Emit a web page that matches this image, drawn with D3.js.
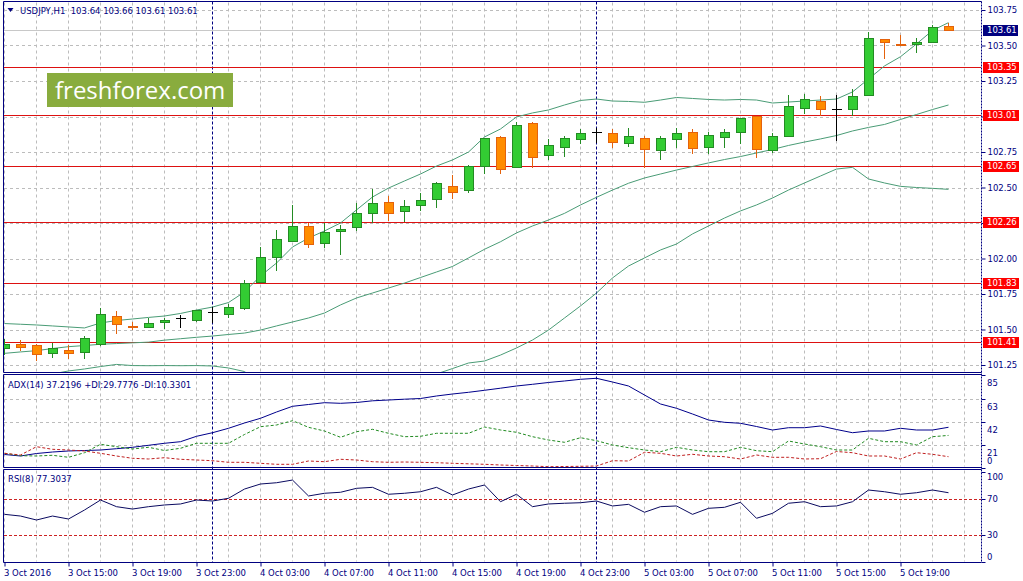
<!DOCTYPE html>
<html>
<head>
<meta charset="utf-8">
<script src="https://cdn.jsdelivr.net/npm/d3@7"></script>
<style>
  body { margin: 0; background: #fff; }
  text { font-family: "DejaVu Sans", sans-serif; font-size: 8.5px; fill: #000080; }
</style>
</head>
<body>
<div id="chart"></div>
<script>
// USDJPY H1, 3 Oct 11:00 .. 5 Oct 22:00 (one bar per hour)
var opens  = [101.368,101.396,101.391,101.332,101.356,101.344,101.398,101.595,101.527,101.520,
              101.555,101.583,101.565,101.625,101.611,101.649,101.837,102.013,102.125,102.227,
              102.107,102.197,102.220,102.323,102.396,102.337,102.375,102.419,102.513,102.482,
              102.651,102.858,102.646,102.952,102.727,102.787,102.839,102.889,102.882,102.815,
              102.846,102.762,102.839,102.889,102.787,102.858,102.893,103.004,102.764,102.865,
              103.058,103.109,103.055,103.051,103.151,103.544,103.510,103.508,103.527,103.640];
var highs  = [101.430,101.426,101.395,101.403,101.391,101.456,101.654,101.630,101.555,101.579,
              101.579,101.602,101.640,101.656,101.680,101.849,102.079,102.200,102.377,102.252,
              102.252,102.236,102.389,102.487,102.440,102.412,102.459,102.541,102.588,102.655,
              102.848,102.860,102.959,102.961,102.840,102.863,102.912,102.921,102.912,102.919,
              102.863,102.863,102.921,102.912,102.893,102.912,102.990,103.006,102.882,103.151,
              103.158,103.144,103.151,103.192,103.595,103.546,103.574,103.551,103.644,103.660];
var lows   = [101.330,101.356,101.285,101.304,101.297,101.297,101.391,101.473,101.504,101.518,
              101.513,101.520,101.562,101.555,101.590,101.647,101.835,101.920,102.123,102.083,
              102.083,102.030,102.200,102.259,102.271,102.264,102.342,102.365,102.428,102.466,
              102.604,102.604,102.644,102.646,102.700,102.724,102.815,102.823,102.787,102.794,
              102.646,102.699,102.787,102.745,102.745,102.787,102.815,102.717,102.752,102.863,
              103.027,103.010,102.835,103.010,103.149,103.410,103.500,103.452,103.525,103.610];
var closes = [101.396,101.379,101.325,101.368,101.332,101.438,101.607,101.536,101.515,101.544,
              101.567,101.583,101.637,101.625,101.656,101.825,102.008,102.135,102.231,102.100,
              102.185,102.205,102.318,102.389,102.323,102.370,102.412,102.530,102.466,102.653,
              102.846,102.632,102.940,102.717,102.797,102.846,102.882,102.889,102.823,102.860,
              102.769,102.846,102.882,102.776,102.868,102.889,102.987,102.773,102.863,103.074,
              103.121,103.051,103.055,103.144,103.551,103.523,103.504,103.523,103.628,103.610];

var bbUpper  = [101.542,101.537,101.532,101.525,101.518,101.511,101.546,101.563,101.574,101.585,
                101.595,101.613,101.637,101.658,101.690,101.764,101.877,101.968,102.081,102.144,
                102.194,102.250,102.342,102.433,102.496,102.546,102.595,102.651,102.694,102.750,
                102.856,102.912,102.997,103.025,103.046,103.081,103.113,103.123,103.109,103.106,
                103.100,103.116,103.134,103.127,103.120,103.116,103.120,103.116,103.095,103.102,
                103.109,103.116,103.123,103.173,103.264,103.356,103.421,103.511,103.606,103.661];
var bbMiddle = [101.332,101.342,101.351,101.366,101.379,101.387,101.396,101.401,101.406,101.411,
                101.425,101.435,101.445,101.454,101.465,101.475,101.496,101.525,101.553,101.581,
                101.616,101.673,101.722,101.757,101.792,101.827,101.866,101.905,101.944,102.004,
                102.065,102.118,102.180,102.229,102.271,102.318,102.377,102.431,102.482,102.530,
                102.567,102.595,102.623,102.648,102.673,102.697,102.718,102.743,102.768,102.796,
                102.820,102.842,102.866,102.898,102.923,102.944,102.979,103.014,103.049,103.081];
var bbLower  = [101.123,101.144,101.172,101.187,101.208,101.222,101.239,101.254,101.246,101.245,
                101.246,101.245,101.246,101.243,101.229,101.204,101.116,101.074,101.025,101.018,
                101.039,101.088,101.102,101.081,101.088,101.109,101.137,101.187,101.225,101.264,
                101.278,101.320,101.370,101.426,101.496,101.581,101.666,101.757,101.863,101.947,
                102.004,102.060,102.102,102.173,102.229,102.285,102.335,102.377,102.426,102.482,
                102.532,102.581,102.630,102.642,102.560,102.532,102.508,102.500,102.494,102.487];

var adx     = [12.34,10.97,13.25,14.62,15.54,15.99,16.45,17.64,18.92,20.75,
               22.58,24.04,28.97,32.26,36.29,41.13,45.43,51.18,56.39,58.04,
               59.68,59.13,59.87,61.42,62.15,62.88,63.52,65.81,67.63,69.19,
               71.02,72.94,74.95,76.50,78.15,79.52,81.07,81.99,78.60,74.95,
               66.72,58.50,54.57,49.36,43.87,41.77,40.86,37.93,34.73,36.83,
               36.83,38.39,35.19,32.26,33.82,33.82,36.29,34.73,34.73,37.22];
var plusDI  = [13.44,11.24,10.97,11.61,9.78,13.98,21.66,19.47,17.37,18.92,
               15.99,18.01,22.58,22.58,22.58,30.62,37.75,39.30,43.23,37.20,
               33.82,28.06,33.18,35.37,31.72,28.61,28.97,31.72,31.72,31.72,
               37.47,34.73,32.63,28.61,25.59,23.49,27.69,24.95,21.02,18.55,
               16.45,14.90,18.92,16.45,14.90,14.90,18.92,15.81,14.90,24.68,
               21.94,19.47,16.45,16.45,27.15,24.04,24.04,21.02,28.61,29.78];
var minusDI = [13.44,11.88,19.47,17.09,16.45,15.54,13.44,10.97,8.87,8.23,
               9.41,7.95,7.31,6.67,5.21,5.21,4.30,3.38,3.38,6.40,
               5.76,7.95,7.31,5.76,5.21,5.48,5.21,4.84,4.30,3.84,
               3.38,2.74,2.28,1.83,1.19,1.37,1.55,1.83,6.67,6.40,
               14.35,13.44,10.97,12.52,10.97,10.33,8.23,11.88,9.78,9.78,
               8.23,8.50,15.08,13.98,10.97,10.97,8.23,13.98,12.52,10.33];
var rsi = [53.3,51.4,47.0,51.4,48.1,58.1,69.2,61.8,59.2,61.8,
           63.7,64.8,69.2,68.1,71.1,81.4,87.0,88.4,91.4,73.7,
           76.7,77.8,82.2,83.3,75.6,76.7,78.4,83.3,74.8,81.4,
           85.9,67.3,75.6,61.8,64.8,65.6,66.2,68.1,62.6,64.4,
           55.6,61.8,62.6,53.3,60.0,61.1,66.7,48.9,54.4,65.6,
           67.3,61.8,62.6,67.3,80.3,78.4,75.6,77.3,80.3,77.3];

var levels = [103.35, 103.01, 102.65, 102.26, 101.83, 101.41];
var bidPrice = 103.61;
var priceTicks = [101.25, 101.50, 101.75, 102.00, 102.25, 102.50, 102.75, 103.00, 103.25, 103.50, 103.75];
var adxTicks = [85, 63, 42, 21, 0];
var rsiTicks = [100, 70, 30, 0];
var rsiLevels = [70, 30];
var timeLabels = ["3 Oct 2016", "3 Oct 15:00", "3 Oct 19:00", "3 Oct 23:00", "4 Oct 03:00",
                  "4 Oct 07:00", "4 Oct 11:00", "4 Oct 15:00", "4 Oct 19:00", "4 Oct 23:00",
                  "5 Oct 03:00", "5 Oct 07:00", "5 Oct 11:00", "5 Oct 15:00", "5 Oct 19:00"];
var timeLabelBars = [0, 4, 8, 12, 16, 20, 24, 28, 32, 36, 40, 44, 48, 52, 56];
var daySeparators = [13, 37];

var W = 1023, H = 581;
var navy = "#000080";
var gridColor = "#bcbcbc";
var left = 3.5, right = 981.5;
var pMain = {top: 1.5, bottom: 372.5},
    pAdx = {top: 374.5, bottom: 467.5},
    pRsi = {top: 469.5, bottom: 562.5};

var x = d3.scaleLinear().domain([0, 59]).range([4, 948]);
var xc = function(i) { return Math.round(x(i)) + 0.5; };
var yMain = d3.scaleLinear().domain([101.25, 103.75]).range([365, 10]);
var yAdx = d3.scaleLinear().domain([0, 85]).range([468, 375]);
var yRsi = d3.scaleLinear().domain([0, 100]).range([562.3, 472.3]);
var snap = function(v) { return Math.round(v) + 0.5; };

var svg = d3.select("#chart").append("svg")
  .attr("width", W)
  .attr("height", H);

svg.append("rect").attr("width", W).attr("height", H).attr("fill", "#fff");

var defs = svg.append("defs");
[["clipMain", pMain], ["clipAdx", pAdx], ["clipRsi", pRsi]].forEach(function(c) {
  defs.append("clipPath").attr("id", c[0]).append("rect")
    .attr("x", 4).attr("y", c[1].top + 0.5)
    .attr("width", 977).attr("height", c[1].bottom - c[1].top - 1);
});

// grid: vertical every two bars, horizontal at the price / ADX ticks
var gridBars = d3.range(0, 61, 2);
var gridPath = d3.path();
[pMain, pAdx, pRsi].forEach(function(p) {
  gridBars.forEach(function(b) {
    gridPath.moveTo(xc(b), p.top + 1);
    gridPath.lineTo(xc(b), p.bottom - 1);
  });
});
priceTicks.forEach(function(v) {
  gridPath.moveTo(4, snap(yMain(v)));
  gridPath.lineTo(981, snap(yMain(v)));
});
[63, 42, 21].forEach(function(v) {
  gridPath.moveTo(4, snap(yAdx(v)));
  gridPath.lineTo(981, snap(yAdx(v)));
});
svg.append("path").attr("d", gridPath.toString())
  .attr("fill", "none").attr("stroke", gridColor).attr("stroke-width", 1)
  .attr("stroke-dasharray", "3,3");

// day separators
svg.append("g").selectAll("line").data(daySeparators).enter().append("line")
  .attr("x1", function(d) { return xc(d); })
  .attr("x2", function(d) { return xc(d); })
  .attr("y1", pMain.top).attr("y2", pRsi.bottom)
  .attr("stroke", navy).attr("stroke-dasharray", "3,2");

// watermark
svg.append("rect").attr("x", 47).attr("y", 73).attr("width", 186).attr("height", 34).attr("fill", "#89ac3e");
svg.append("text").attr("x", 55).attr("y", 99).text("freshforex.com")
  .style("font-family", "'Open Sans', sans-serif").style("font-size", "24px").style("fill", "#fff");

// main panel contents
var main = svg.append("g").attr("clip-path", "url(#clipMain)");

main.append("line")
  .attr("x1", 4).attr("x2", 981)
  .attr("y1", snap(yMain(bidPrice))).attr("y2", snap(yMain(bidPrice)))
  .attr("stroke", "#c8c8c8");

main.selectAll(".level").data(levels).enter().append("line")
  .attr("class", "level")
  .attr("x1", 4).attr("x2", 981)
  .attr("y1", function(d) { return snap(yMain(d)); })
  .attr("y2", function(d) { return snap(yMain(d)); })
  .attr("stroke", "#dd1111");

var bandLine = d3.line()
  .x(function(d, i) { return xc(i); })
  .y(function(d) { return yMain(d); });
[bbUpper, bbMiddle, bbLower].forEach(function(s) {
  main.append("path").attr("d", bandLine(s))
    .attr("fill", "none").attr("stroke", "#4a9c76").attr("stroke-width", 1);
});

var candles = opens.map(function(o, i) {
  return {i: i, o: o, h: highs[i], l: lows[i], c: closes[i]};
});
var cg = main.append("g").selectAll("g").data(candles).enter().append("g");
function edgeColor(d) { return d.c > d.o ? "#238b23" : (d.c < d.o ? "#e4620c" : "#000"); }
cg.append("line")
  .attr("x1", function(d) { return xc(d.i); })
  .attr("x2", function(d) { return xc(d.i); })
  .attr("y1", function(d) { return Math.round(yMain(d.h)); })
  .attr("y2", function(d) { return Math.round(yMain(d.l)) + 1; })
  .attr("stroke", edgeColor);
cg.each(function(d) {
  var g = d3.select(this);
  var cx = Math.round(x(d.i));
  if (d.o === d.c) {
    g.append("line")
      .attr("x1", cx - 4).attr("x2", cx + 6)
      .attr("y1", snap(yMain(d.o))).attr("y2", snap(yMain(d.o)))
      .attr("stroke", "#000");
  } else {
    var yt = snap(yMain(Math.max(d.o, d.c)));
    var yb = snap(yMain(Math.min(d.o, d.c)));
    g.append("rect")
      .attr("x", cx - 3.5).attr("width", 9)
      .attr("y", yt).attr("height", Math.max(yb - yt, 1))
      .attr("fill", d.c > d.o ? "#33cc33" : "#ff8c00")
      .attr("stroke", edgeColor(d));
  }
});

// ADX panel
var adxG = svg.append("g").attr("clip-path", "url(#clipAdx)");
var adxLine = d3.line().x(function(d, i) { return xc(i); }).y(function(d) { return yAdx(d); });
adxG.append("path").attr("d", adxLine(adx)).attr("fill", "none").attr("stroke", "#00008b");
adxG.append("path").attr("d", adxLine(plusDI)).attr("fill", "none").attr("stroke", "#228b22").attr("stroke-dasharray", "3,2");
adxG.append("path").attr("d", adxLine(minusDI)).attr("fill", "none").attr("stroke", "#c02020").attr("stroke-dasharray", "3,2");

// RSI panel
var rsiG = svg.append("g").attr("clip-path", "url(#clipRsi)");
rsiG.selectAll("line").data(rsiLevels).enter().append("line")
  .attr("x1", 4).attr("x2", 981)
  .attr("y1", function(d) { return snap(yRsi(d)); })
  .attr("y2", function(d) { return snap(yRsi(d)); })
  .attr("stroke", "#cc2222").attr("stroke-dasharray", "3,2");
var rsiLine = d3.line().x(function(d, i) { return xc(i); }).y(function(d) { return yRsi(d); });
rsiG.append("path").attr("d", rsiLine(rsi)).attr("fill", "none").attr("stroke", "#0a0a60");

// frames
[pMain, pAdx, pRsi].forEach(function(p) {
  svg.append("line").attr("x1", left).attr("x2", right).attr("y1", p.top).attr("y2", p.top).attr("stroke", navy);
  svg.append("line").attr("x1", left).attr("x2", right).attr("y1", p.bottom).attr("y2", p.bottom).attr("stroke", navy);
  svg.append("line").attr("x1", left).attr("x2", left).attr("y1", p.top).attr("y2", p.bottom).attr("stroke", navy);
});
svg.append("line").attr("x1", right).attr("x2", right).attr("y1", pMain.top).attr("y2", pRsi.bottom)
  .attr("stroke", navy).attr("stroke-dasharray", "2,1");

// price axis
var yAxis = d3.axisRight(yMain).tickValues(priceTicks).tickFormat(d3.format(".2f")).tickSize(4).tickPadding(2);
var gy = svg.append("g").attr("transform", "translate(" + right + ",0)").attr("color", navy).call(yAxis);
gy.select(".domain").remove();

// level labels
var lvl = svg.append("g").selectAll("g").data(levels).enter().append("g")
  .attr("transform", function(d) { return "translate(983," + Math.round(yMain(d)) + ")"; });
lvl.append("rect").attr("x", 0).attr("y", -5).attr("width", 36).attr("height", 11).attr("fill", "#ff0000");
lvl.append("text").attr("x", 4).attr("y", 0).attr("dy", "0.35em").text(d3.format(".2f")).style("fill", "#fff");

var bid = svg.append("g").attr("transform", "translate(983," + Math.round(yMain(bidPrice)) + ")");
bid.append("rect").attr("x", 0).attr("y", -5).attr("width", 35).attr("height", 11).attr("fill", navy);
bid.append("text").attr("x", 4).attr("y", 0).attr("dy", "0.35em").text(d3.format(".2f")(bidPrice)).style("fill", "#fff");

// ADX axis
var ga = svg.append("g");
ga.selectAll("line").data(adxTicks).enter().append("line")
  .attr("x1", right).attr("x2", right + 4)
  .attr("y1", function(d) { return snap(yAdx(d)); })
  .attr("y2", function(d) { return snap(yAdx(d)); })
  .attr("stroke", navy);
ga.selectAll("text").data(adxTicks).enter().append("text")
  .attr("x", 987)
  .attr("y", function(d) { return Math.min(yAdx(d) + 8, 461); })
  .attr("dy", "0.35em").text(function(d) { return d; });

// RSI axis
var gr = svg.append("g");
gr.selectAll("line").data(rsiTicks).enter().append("line")
  .attr("x1", right).attr("x2", right + 4)
  .attr("y1", function(d) { return snap(yRsi(d)); })
  .attr("y2", function(d) { return snap(yRsi(d)); })
  .attr("stroke", navy);
gr.selectAll("text").data(rsiTicks).enter().append("text")
  .attr("x", 987)
  .attr("y", function(d) { return Math.max(477, Math.min(yRsi(d), 556.7)); })
  .attr("dy", "0.35em").text(function(d) { return d; });

// time axis
var xAxis = d3.axisBottom(x).tickValues(timeLabelBars)
  .tickFormat(function(d, i) { return timeLabels[i]; })
  .tickSize(4).tickPadding(3);
var gx = svg.append("g").attr("transform", "translate(0.5," + pRsi.bottom + ")").attr("color", navy).call(xAxis);
gx.select(".domain").remove();
gx.selectAll(".tick text").attr("text-anchor", "start").attr("x", -1);

// headers
svg.append("path").attr("d", "M7.5,8 L13.5,8 L10.5,12 Z").attr("fill", navy);
svg.append("text").attr("x", 20).attr("y", 13.5).style("white-space", "pre")
  .text("USDJPY,H1  " + [opens[59], highs[59], lows[59], closes[59]].map(d3.format(".2f")).join(" "));
svg.append("text").attr("x", 8).attr("y", 388)
  .text("ADX(14) 37.2196 +DI:29.7776 -DI:10.3301");
svg.append("text").attr("x", 8).attr("y", 482)
  .text("RSI(8) 77.3037");
</script>
</body>
</html>
